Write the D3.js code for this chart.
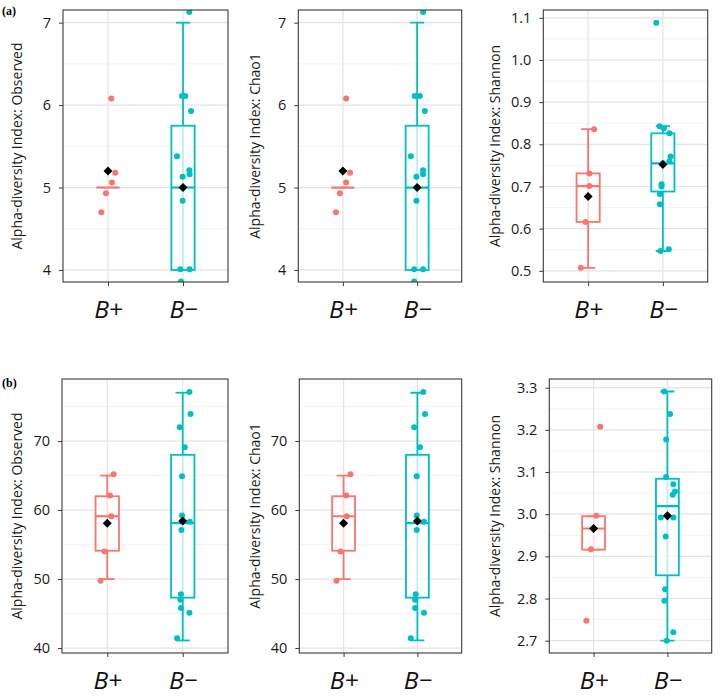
<!DOCTYPE html>
<html><head><meta charset="utf-8">
<script src="https://cdn.jsdelivr.net/npm/d3@7"></script>
<style>body{margin:0;background:#fff} svg{display:block}</style>
</head><body>
<svg id="c" width="722" height="696"></svg>
<script>
const categories = ["B+", "B\u2212"];

// ---- (a) Observed ----
const aObsPlus = [6.08, 5.18, 5.06, 4.93, 4.70];
const aObsPlusJit = [0.044, 0.097, 0.053, -0.027, -0.089];
const aObsMinus = [7.13, 6.11, 6.11, 5.93, 5.38, 5.21, 5.16, 5.13, 5.00, 4.84, 4.01, 4.01, 3.86];
const aObsMinusJit = [0.084, -0.013, 0.031, 0.107, -0.08, 0.084, 0.088, -0.005, 0.0, -0.005, -0.036, 0.088, -0.027];
// lo, q1, median, q3, hi, mean
const aObsStatsPlus = [5, 5, 5, 5, 5, 5.2];
const aObsStatsMinus = [4, 4, 5, 5.75, 7, 5.0];

// ---- (a) Chao1 ----
const aChaoPlus = [6.08, 5.18, 5.06, 4.93, 4.70];
const aChaoPlusJit = [0.044, 0.097, 0.044, -0.04, -0.093];
const aChaoMinus = [7.13, 6.11, 6.11, 5.93, 5.38, 5.21, 5.16, 5.13, 5.00, 4.84, 4.01, 4.01, 3.86];
const aChaoMinusJit = [0.08, -0.031, 0.036, 0.103, -0.084, 0.08, 0.08, -0.009, 0.0, -0.009, -0.04, 0.08, -0.04];
const aChaoStatsPlus = [5, 5, 5, 5, 5, 5.2];
const aChaoStatsMinus = [4, 4, 5, 5.75, 7, 5.0];

// ---- (a) Shannon ----
const aShanPlus = [0.836, 0.731, 0.701, 0.616, 0.507];
const aShanPlusJit = [0.08, 0.017, 0.017, -0.035, -0.097];
const aShanMinus = [1.088, 0.843, 0.838, 0.826, 0.771, 0.760, 0.755, 0.7055, 0.700, 0.682, 0.658, 0.551, 0.547];
const aShanMinusJit = [-0.088, -0.044, 0.013, 0.089, 0.103, 0.089, 0.0, -0.017, -0.017, -0.04, -0.04, 0.08, -0.031];
const aShanStatsPlus = [0.507, 0.616, 0.701, 0.731, 0.836, 0.676];
const aShanStatsMinus = [0.547, 0.688, 0.755, 0.826, 0.843, 0.752];

// ---- (b) Observed ----
const bObsPlus = [65.2, 62.1, 59.1, 54.0, 49.75];
const bObsPlusJit = [0.084, 0.036, 0.053, -0.036, -0.089];
const bObsMinus = [77.1, 73.9, 72.0, 69.1, 64.9, 59.2, 58.3, 57.1, 47.8, 47.0, 45.8, 45.1, 41.4];
const bObsMinusJit = [0.089, 0.103, -0.04, 0.027, -0.009, -0.009, 0.093, -0.017, -0.023, -0.031, -0.023, 0.089, -0.075];
const bObsStatsPlus = [50, 54.1, 59.1, 62, 65, 58.07];
const bObsStatsMinus = [41.1, 47.3, 58.1, 68, 77, 58.4];

// ---- (b) Chao1 ----
const bChaoPlus = [65.2, 62.1, 59.1, 54.0, 49.75];
const bChaoPlusJit = [0.093, 0.036, 0.044, -0.04, -0.097];
const bChaoMinus = [77.1, 73.9, 72.0, 69.1, 64.9, 59.2, 58.3, 57.1, 47.8, 47.0, 45.8, 45.1, 41.4];
const bChaoMinusJit = [0.08, 0.103, -0.044, 0.036, -0.009, -0.009, 0.089, -0.009, -0.023, -0.031, -0.031, 0.089, -0.089];
const bChaoStatsPlus = [50, 54.1, 59.1, 62, 65, 58.07];
const bChaoStatsMinus = [41.1, 47.3, 58.1, 68, 77, 58.4];

// ---- (b) Shannon ----
const bShanPlus = [3.2075, 2.996, 2.966, 2.917, 2.747];
const bShanPlusJit = [0.09, 0.036, 0.0, -0.036, -0.098];
const bShanMinus = [3.291, 3.2375, 3.177, 3.088, 3.071, 3.054, 3.046, 2.992, 2.992, 2.947, 2.822, 2.795, 2.72, 2.70];
const bShanMinusJit = [-0.044, 0.036, -0.017, -0.017, 0.08, 0.103, 0.071, -0.089, 0.08, -0.023, -0.031, -0.04, 0.08, -0.009];
const bShanStatsPlus = [2.916, 2.916, 2.966, 2.995, 2.995, 2.966];
const bShanStatsMinus = [2.70, 2.855, 3.019, 3.084, 3.291, 2.996];

// tick labels
const obsTicksA = [4, 5, 6, 7];
const shanTicksA = [0.5, 0.6, 0.7, 0.8, 0.9, 1.0, 1.1];
const obsTicksB = [40, 50, 60, 70];
const shanTicksB = [2.7, 2.8, 2.9, 3.0, 3.1, 3.2, 3.3];

const COLORS = ["#F8766D", "#00BFC4"];
const svg = d3.select("#c");
const defs = svg.append("defs");

const panels = [
  {id:"a1", x0:63, x1:228, y0:10, y1:282, dom:[3.854, 7.154], ticks:obsTicksA, fmt:d3.format("d"), titleX:17,
   title:"Alpha-diversity Index: Observed",
   groups:[[aObsPlus,aObsPlusJit,aObsStatsPlus],[aObsMinus,aObsMinusJit,aObsStatsMinus]]},
  {id:"a2", x0:298.3, x1:461.7, y0:10, y1:282, dom:[3.854, 7.154], ticks:obsTicksA, fmt:d3.format("d"), titleX:255,
   title:"Alpha-diversity Index: Chao1",
   groups:[[aChaoPlus,aChaoPlusJit,aChaoStatsPlus],[aChaoMinus,aChaoMinusJit,aChaoStatsMinus]]},
  {id:"a3", x0:543.3, x1:707.7, y0:10, y1:282, dom:[0.4735, 1.1185], ticks:shanTicksA, fmt:d3.format(".1f"), titleX:495,
   title:"Alpha-diversity Index: Shannon",
   groups:[[aShanPlus,aShanPlusJit,aShanStatsPlus],[aShanMinus,aShanMinusJit,aShanStatsMinus]]},
  {id:"b1", x0:62, x1:228, y0:379, y1:653, dom:[39.28, 78.99], ticks:obsTicksB, fmt:d3.format("d"), titleX:17,
   title:"Alpha-diversity Index: Observed",
   groups:[[bObsPlus,bObsPlusJit,bObsStatsPlus],[bObsMinus,bObsMinusJit,bObsStatsMinus]]},
  {id:"b2", x0:299.3, x1:461.7, y0:379, y1:653, dom:[39.28, 78.99], ticks:obsTicksB, fmt:d3.format("d"), titleX:255,
   title:"Alpha-diversity Index: Chao1",
   groups:[[bChaoPlus,bChaoPlusJit,bChaoStatsPlus],[bChaoMinus,bChaoMinusJit,bChaoStatsMinus]]},
  {id:"b3", x0:549.3, x1:711.7, y0:379, y1:653, dom:[2.6708, 3.3206], ticks:shanTicksB, fmt:d3.format(".1f"), titleX:495,
   title:"Alpha-diversity Index: Shannon",
   groups:[[bShanPlus,bShanPlusJit,bShanStatsPlus],[bShanMinus,bShanMinusJit,bShanStatsMinus]]}
];

const FONT = "'Open Sans', 'Noto Sans', sans-serif";

panels.forEach(p => {
  const x = d3.scaleLinear().domain([0.4, 2.6]).range([p.x0, p.x1]);
  const y = d3.scaleLinear().domain(p.dom).range([p.y1, p.y0]);
  const g = svg.append("g");
  defs.append("clipPath").attr("id", "clip-" + p.id)
    .append("rect").attr("x", p.x0).attr("y", p.y0).attr("width", p.x1 - p.x0).attr("height", p.y1 - p.y0);

  // minor grid (midpoints between ticks)
  const step = p.ticks[1] - p.ticks[0];
  const minor = p.ticks.map(t => t - step / 2).concat([p.ticks[p.ticks.length - 1] + step / 2])
    .filter(v => v > p.dom[0] && v < p.dom[1]);
  g.selectAll("line.minor").data(minor).join("line").attr("class", "minor")
    .attr("x1", p.x0).attr("x2", p.x1).attr("y1", d => y(d)).attr("y2", d => y(d))
    .attr("stroke", "#f0f0f0").attr("stroke-width", 0.8);
  g.selectAll("line.major").data(p.ticks).join("line").attr("class", "major")
    .attr("x1", p.x0).attr("x2", p.x1).attr("y1", d => y(d)).attr("y2", d => y(d))
    .attr("stroke", "#e4e4e4").attr("stroke-width", 1.2);
  g.selectAll("line.vgrid").data([1, 2]).join("line").attr("class", "vgrid")
    .attr("x1", d => x(d)).attr("x2", d => x(d)).attr("y1", p.y0).attr("y2", p.y1)
    .attr("stroke", "#e4e4e4").attr("stroke-width", 1.2);

  const dg = g.append("g").attr("clip-path", `url(#clip-${p.id})`);
  const capW = 0.095, boxW = 0.155;
  p.groups.forEach((grp, i) => {
    const [vals, jit, st] = grp;
    const cx = i + 1, col = COLORS[i];
    const [lo, q1, med, q3, hi, mean] = st;
    // errorbar (whisker)
    if (hi > lo) {
      dg.append("line").attr("x1", x(cx)).attr("x2", x(cx)).attr("y1", y(lo)).attr("y2", y(hi))
        .attr("stroke", col).attr("stroke-width", 1.8);
      [lo, hi].forEach(v => dg.append("line")
        .attr("x1", x(cx - capW)).attr("x2", x(cx + capW)).attr("y1", y(v)).attr("y2", y(v))
        .attr("stroke", col).attr("stroke-width", 1.8));
    }
    // box
    if (q3 > q1) {
      dg.append("rect").attr("x", x(cx - boxW)).attr("width", x(cx + boxW) - x(cx - boxW))
        .attr("y", y(q3)).attr("height", y(q1) - y(q3))
        .attr("fill", "#fff").attr("fill-opacity", 0.75).attr("stroke", col).attr("stroke-width", 1.8);
    }
    dg.append("line").attr("x1", x(cx - boxW)).attr("x2", x(cx + boxW)).attr("y1", y(med)).attr("y2", y(med))
      .attr("stroke", col).attr("stroke-width", 2.2);
    // jittered points
    dg.selectAll(null).data(vals).join("circle")
      .attr("cx", (d, k) => x(cx + jit[k])).attr("cy", d => y(d)).attr("r", 3).attr("fill", col);
    // mean diamond
    dg.append("path").attr("d", d3.symbol().type(d3.symbolDiamond2).size(52)())
      .attr("transform", `translate(${x(cx)},${y(mean)})`).attr("fill", "#000");
  });

  // border
  g.append("rect").attr("x", p.x0).attr("y", p.y0).attr("width", p.x1 - p.x0).attr("height", p.y1 - p.y0)
    .attr("fill", "none").attr("stroke", "#3a3a3a").attr("stroke-width", 1.1);

  // y axis
  const ya = g.append("g").attr("transform", `translate(${p.x0},0)`)
    .call(d3.axisLeft(y).tickValues(p.ticks).tickFormat(p.fmt).tickSize(4).tickPadding(8));
  ya.select(".domain").remove();
  ya.selectAll(".tick line").attr("stroke", "#3a3a3a");
  ya.selectAll("text").attr("font-family", FONT).attr("font-size", 14.5).attr("fill", "#1a1a1a");

  // x axis
  const xa = g.append("g").attr("transform", `translate(0,${p.y1})`)
    .call(d3.axisBottom(x).tickValues([1, 2]).tickFormat(d => categories[d - 1]).tickSize(4));
  xa.select(".domain").remove();
  xa.selectAll(".tick line").attr("stroke", "#3a3a3a");
  xa.selectAll("text").attr("y", 36).attr("dy", 0).attr("font-family", FONT)
    .attr("font-style", "italic").attr("font-size", 24.5).attr("fill", "#111");

  // y title
  g.append("text").attr("transform", `translate(${p.titleX},${(p.y0 + p.y1) / 2}) rotate(-90)`)
    .attr("text-anchor", "middle").attr("dy", "0.35em")
    .attr("font-family", FONT).attr("font-size", 14).attr("fill", "#1a1a1a").text(p.title);
});

svg.append("text").attr("x", 2).attr("y", 15).attr("font-family", "'Liberation Serif', serif")
  .attr("font-weight", "bold").attr("font-size", 12).text("(a)");
svg.append("text").attr("x", 2).attr("y", 387).attr("font-family", "'Liberation Serif', serif")
  .attr("font-weight", "bold").attr("font-size", 12).text("(b)");
</script>
</body></html>
